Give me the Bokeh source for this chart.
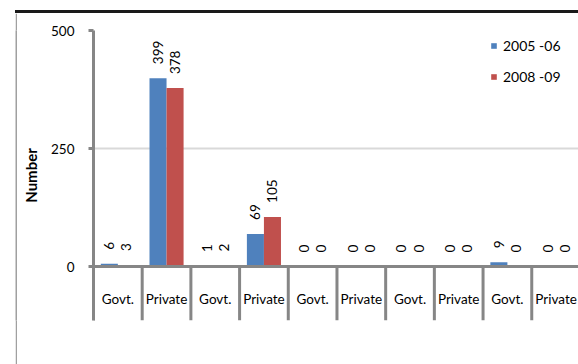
import numpy as np
from bokeh.plotting import figure
from bokeh.layouts import column, row
from bokeh.models import (Range1d, FixedTicker, ColumnDataSource, Span, Legend, LegendItem, Spacer, Div)
from bokeh.core.properties import value
from bokeh.transform import dodge
from bokeh.embed import file_html
from bokeh.resources import INLINE

categories = ["Govt.", "Private", "Govt.", "Private", "Govt.", "Private",
              "Govt.", "Private", "Govt.", "Private"]
series_names = ["2005 -06", "2008 -09"]
s2005 = [6, 399, 1, 69, 0, 0, 0, 0, 9, 0]
s2008 = [3, 378, 2, 105, 0, 0, 0, 0, 0, 0]
y_ticks = [0, 250, 500]

BLUE = "#4F81BD"
RED = "#C0504D"
AXIS = "#868686"
FONT = "Lato"

pos = np.arange(len(categories)) + 0.5
bw = 0.35

p = figure(width=561, height=351, output_backend="svg", toolbar_location=None,
           x_range=Range1d(0, 9.96), y_range=Range1d(-114.4, 500),
           min_border_left=76, min_border_right=0, min_border_top=17, min_border_bottom=44)
p.outline_line_color = None
p.xaxis.visible = False
p.xgrid.visible = False

yax = p.yaxis[0]
yax.ticker = FixedTicker(ticks=y_ticks)
yax.axis_line_color = AXIS
yax.axis_line_width = 3
yax.major_tick_line_color = AXIS
yax.major_tick_line_width = 3
yax.major_tick_out = 5
yax.major_tick_in = 0
yax.minor_tick_line_color = None
yax.major_label_standoff = 14
yax.major_label_text_font = FONT
yax.major_label_text_font_size = "13.5px"
yax.major_label_text_color = "#000000"
yax.axis_label = "Number"
yax.axis_label_text_font = FONT
yax.axis_label_text_font_style = "bold"
yax.axis_label_text_font_size = "15px"
yax.axis_label_text_color = "#000000"
yax.axis_label_standoff = 8

p.ygrid.ticker = FixedTicker(ticks=[250, 500])
p.ygrid.grid_line_color = "#D9D9D9"
p.ygrid.grid_line_width = 2

src = ColumnDataSource(dict(x=pos, cat=categories, a=s2005, b=s2008,
                            la=[str(v) for v in s2005], lb=[str(v) for v in s2008]))

r1 = p.vbar(x=dodge("x", -bw / 2), top="a", width=bw, source=src, fill_color=BLUE, line_color=None)
r2 = p.vbar(x=dodge("x", bw / 2), top="b", width=bw, source=src, fill_color=RED, line_color=None)

for col, lab, off in [("a", "la", -bw / 2), ("b", "lb", bw / 2)]:
    p.text(x=dodge("x", off), y=col, text=lab, source=src, angle=np.pi / 2,
           text_align="left", text_baseline="middle", y_offset=-14,
           text_font=value(FONT), text_font_size="13.5px", text_color="#000000")

# x axis line
p.add_layout(Span(location=0, dimension="width", line_color=AXIS, line_width=3))

# category separators
seps = np.arange(len(categories) + 1)
p.segment(x0=seps, y0=[-114.4] * len(seps), x1=seps, y1=[0] * len(seps),
          line_color=AXIS, line_width=3)

# category labels
p.text(x="x", y=-67.8, text="cat", source=src, text_align="center", text_baseline="middle",
       text_font=value(FONT), text_font_size="13.5px", text_color="#000000")

legend = Legend(items=[LegendItem(label=series_names[0], renderers=[r1]),
                       LegendItem(label=series_names[1], renderers=[r2])],
                location=(397, 235), orientation="vertical")
legend.glyph_width = 7
legend.glyph_height = 7
legend.label_height = 15
legend.spacing = 14
legend.padding = 0
legend.margin = 0
legend.label_standoff = 6
legend.label_text_font = FONT
legend.label_text_font_size = "14px"
legend.label_text_color = "#000000"
legend.border_line_color = None
legend.background_fill_alpha = 0
p.add_layout(legend)


def strip(w, h, color):
    f = figure(width=w, height=h, output_backend="svg", toolbar_location=None,
               min_border=0, x_axis_location=None, y_axis_location=None)
    f.grid.visible = False
    f.outline_line_color = None
    f.background_fill_color = color
    f.border_fill_color = color
    return f


top_line = Div(text="", width=563, height=3, margin=0,
               styles={"background-color": "#1A1A1A"})
left_line = strip(2, 351, "#A0A0A0")

layout = column(
    Spacer(width=578, height=10),
    row(Spacer(width=15, height=3), top_line, spacing=0),
    row(Spacer(width=15, height=351), left_line, p, spacing=0),
    spacing=0,
)

open("out.html", "w").write(file_html(layout, INLINE))
